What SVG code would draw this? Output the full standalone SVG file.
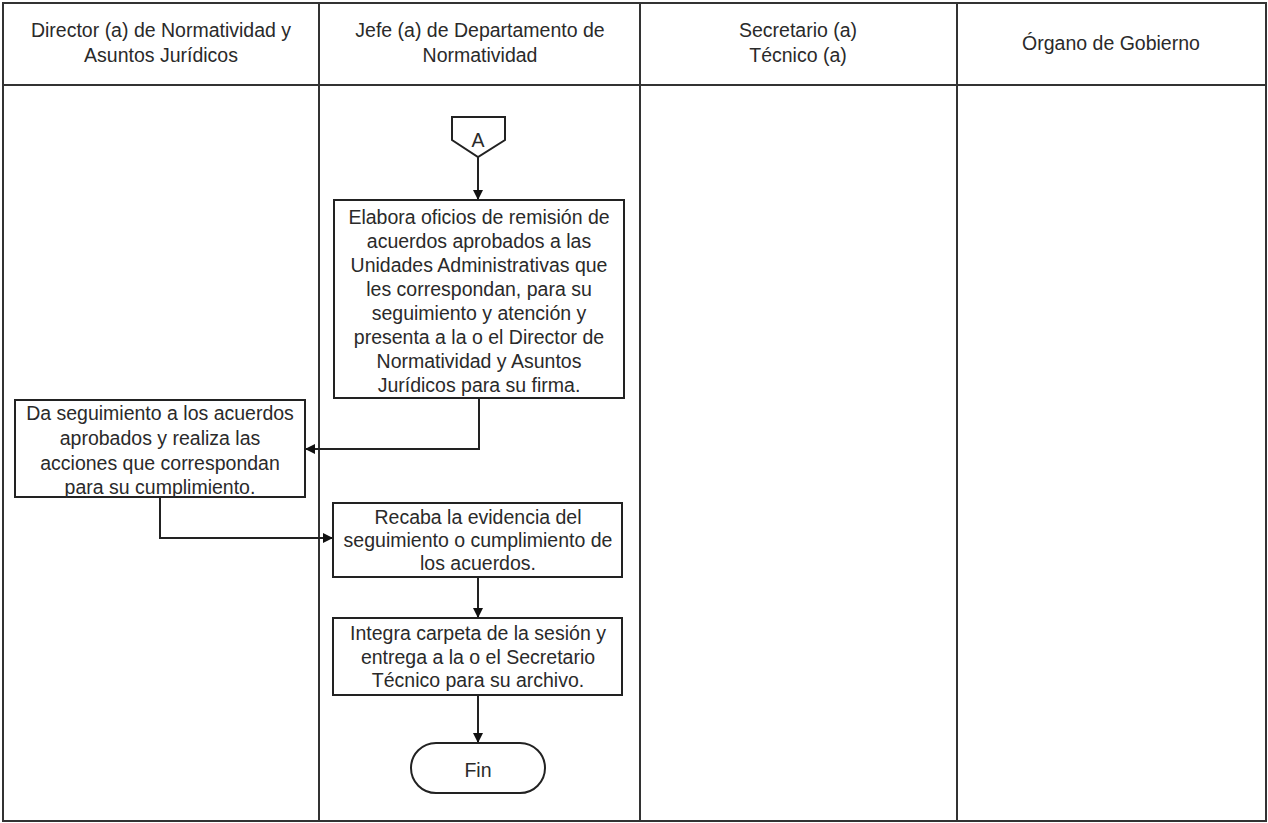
<svg xmlns="http://www.w3.org/2000/svg" width="1268" height="823" viewBox="0 0 1268 823">
<style>
.lane{fill:none;stroke:#333;stroke-width:2}
.box{fill:#fff;stroke:#222;stroke-width:2}
.t{font-family:"Liberation Sans",Arial,sans-serif;font-size:19.5px;fill:#2a2a2a;text-anchor:middle}
.c{fill:none;stroke:#222;stroke-width:2}
</style>
<defs>
<marker id="ah" markerWidth="10" markerHeight="10" refX="9" refY="5" orient="auto" markerUnits="userSpaceOnUse">
<path d="M0,0 L10,5 L0,10 Z" fill="#111"/>
</marker>
</defs>
<rect width="1268" height="823" fill="#fff"/>
<g id="lanes">
<rect class="lane" x="3" y="3" width="1263" height="818"/>
<line class="lane" x1="3" y1="85" x2="1266" y2="85"/>
<line class="lane" x1="319" y1="3" x2="319" y2="821"/>
<line class="lane" x1="640" y1="3" x2="640" y2="821"/>
<line class="lane" x1="957" y1="3" x2="957" y2="821"/>
<text class="t" x="161" y="37">Director (a) de Normatividad y</text>
<text class="t" x="161" y="62">Asuntos Jurídicos</text>
<text class="t" x="480" y="37">Jefe (a) de Departamento de</text>
<text class="t" x="480" y="62">Normatividad</text>
<text class="t" x="798" y="37">Secretario (a)</text>
<text class="t" x="798" y="62">Técnico (a)</text>
<text class="t" x="1111" y="50">Órgano de Gobierno</text>
</g>
<g id="connectors">
<line class="c" x1="478" y1="157" x2="478" y2="199" marker-end="url(#ah)"/>
<polyline class="c" points="479,398 479,449 306,449" marker-end="url(#ah)"/>
<polyline class="c" points="160,497 160,538 332,538" marker-end="url(#ah)"/>
<line class="c" x1="478" y1="577" x2="478" y2="617" marker-end="url(#ah)"/>
<line class="c" x1="478" y1="695" x2="478" y2="742" marker-end="url(#ah)"/>
</g>
<g id="nodeA">
<path class="box" d="M452,117 H505 V140 L478,157 L452,140 Z"/>
<text class="t" x="478" y="147">A</text>
</g>
<g id="node1">
<rect class="box" x="334" y="200" width="290" height="198"/>
<text class="t" x="479" y="224">Elabora oficios de remisión de</text>
<text class="t" x="479" y="248">acuerdos aprobados a las</text>
<text class="t" x="479" y="272">Unidades Administrativas que</text>
<text class="t" x="479" y="296">les correspondan, para su</text>
<text class="t" x="479" y="320">seguimiento y atención y</text>
<text class="t" x="479" y="344">presenta a la o el Director de</text>
<text class="t" x="479" y="368">Normatividad y Asuntos</text>
<text class="t" x="479" y="392">Jurídicos para su firma.</text>
</g>
<g id="node2">
<rect class="box" x="15" y="400" width="290" height="97"/>
<text class="t" x="160" y="420">Da seguimiento a los acuerdos</text>
<text class="t" x="160" y="445">aprobados y realiza las</text>
<text class="t" x="160" y="470">acciones que correspondan</text>
<text class="t" x="160" y="494">para su cumplimiento.</text>
</g>
<g id="node3">
<rect class="box" x="333" y="503" width="289" height="74"/>
<text class="t" x="478" y="524">Recaba la evidencia del</text>
<text class="t" x="478" y="547">seguimiento o cumplimiento de</text>
<text class="t" x="478" y="570">los acuerdos.</text>
</g>
<g id="node4">
<rect class="box" x="333" y="618" width="289" height="77"/>
<text class="t" x="478" y="640">Integra carpeta de la sesión y</text>
<text class="t" x="478" y="664">entrega a la o el Secretario</text>
<text class="t" x="478" y="687">Técnico para su archivo.</text>
</g>
<g id="fin">
<rect class="box" x="411" y="743" width="134" height="50" rx="25" ry="25"/>
<text class="t" x="478" y="777">Fin</text>
</g>
</svg>
